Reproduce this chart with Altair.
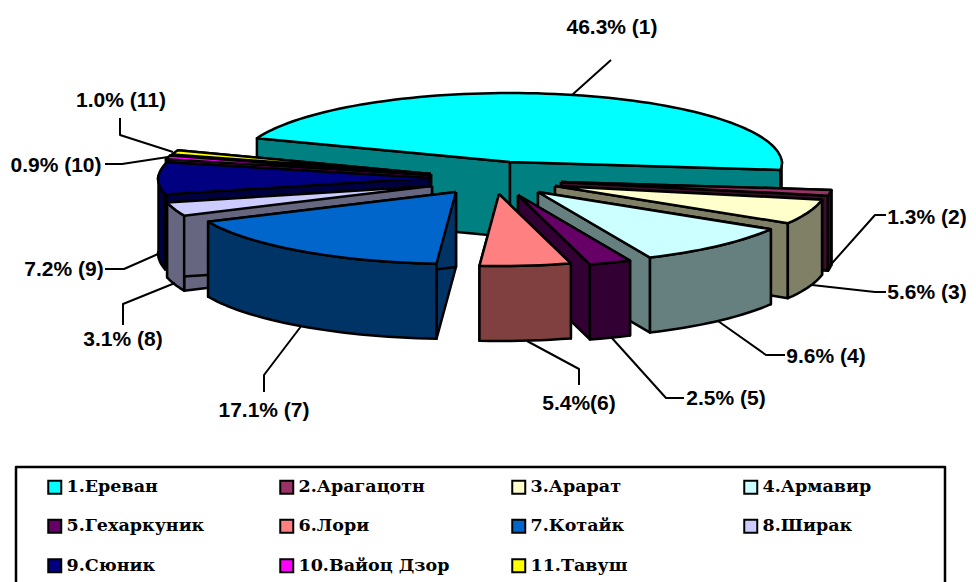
import math
import altair as alt
import pandas as pd

# ---- data ----
names = ["1.Ереван", "2.Арагацотн", "3.Арарат", "4.Армавир", "5.Гехаркуник", "6.Лори",
         "7.Котайк", "8.Ширак", "9.Сюник", "10.Вайоц Дзор", "11.Тавуш"]
shares = [46.3, 1.3, 5.6, 9.6, 2.5, 5.4, 17.1, 3.1, 7.2, 0.9, 1.0]
labels = ["46.3% (1)", "1.3% (2)", "5.6% (3)", "9.6% (4)", "2.5% (5)", "5.4%(6)",
          "17.1% (7)", "3.1% (8)", "7.2% (9)", "0.9% (10)", "1.0% (11)"]
top_colors = ["#00FFFF", "#993366", "#FFFFCC", "#CCFFFF", "#660066", "#FF8080",
              "#0066CC", "#CCCCFF", "#000080", "#FF00FF", "#FFFF00"]
wall_colors = ["#008080", "#3A1028", "#808066", "#668080", "#330033", "#804040",
               "#003366", "#666680", "#000040", "#800080", "#808000"]

# ---- layout of the exploded pie (pixels of the 976x582 page) ----
W, H = 968, 582
A, B, DEPTH = 272, 72, 75
START = 199.6
tips = [(510, 162), (561, 182), (555, 186), (538, 192), (518, 195), (499, 194),
        (456, 192), (432, 186), (430, 178), (429, 175), (431, 174)]
draw_order = [0, 1, 2, 3, 10, 9, 8, 7, 6, 4, 5]
label_xy = [(612, 28), (927, 218), (927, 293), (826, 357), (726, 399), (579, 404),
            (264, 411), (123, 340), (64, 270), (56, 166), (121, 101)]
leaders = [[(572, 95), (611, 60)],
           [(826, 270), (875, 215), (886, 215)],
           [(812, 285), (875, 292), (886, 292)],
           [(718, 321), (766, 355), (785, 355)],
           [(611, 337), (666, 398), (684, 398)],
           [(527, 341), (579, 369), (579, 385)],
           [(302, 325), (264, 375), (264, 392)],
           [(175, 283), (123, 304), (123, 325)],
           [(158, 254), (124, 269), (105, 269)],
           [(168, 157), (122, 164), (105, 164)],
           [(173, 152), (120, 135), (120, 118)]]
box_path = [(16, 582), (16, 467), (945, 467), (945, 582)]

xs = alt.Scale(domain=[8, W], range=[0, W - 8], nice=False, zero=False)
ys = alt.Scale(domain=[8, H], range=[0, H - 8], nice=False, zero=False)


def path_layer(points, fill=None, sw=2.5):
    df = pd.DataFrame({"x": [p[0] for p in points], "y": [p[1] for p in points],
                       "i": range(len(points))})
    kw = dict(stroke="black", strokeWidth=sw, strokeJoin="round", clip=False)
    if fill:
        kw["fill"] = fill
    return alt.Chart(df).mark_line(**kw).encode(
        x=alt.X("x:Q", scale=xs, axis=None),
        y=alt.Y("y:Q", scale=ys, axis=None),
        order=alt.Order("i:Q"),
    )


def ell(c, deg):
    t = math.radians(deg)
    s = math.sin(t)
    back = min(0.0, s)  # the far half of the pie is slightly smaller (perspective)
    return (c[0] + (A + 10 * back) * math.cos(t), c[1] + (B + 3 * back) * s)


def drop(p):
    return (p[0], p[1] + DEPTH)


starts = []
a = START
for s in shares:
    starts.append(a)
    a += s * 3.6

layers = []
for k in draw_order:
    c = tips[k]
    a0 = starts[k]
    a1 = a0 + shares[k] * 3.6
    n = max(3, int((a1 - a0) / 2))
    arc_deg = [a0 + (a1 - a0) * j / n for j in range(n + 1)]
    arc = [ell(c, d) for d in arc_deg]
    for end in (arc[0], arc[-1]):
        wall = [c, end, drop(end), drop(c), c]
        layers.append(path_layer(wall, wall_colors[k]))
    front = [ell(c, d) for d in arc_deg if math.sin(math.radians(d)) > -0.05]
    if len(front) > 1:
        outer = front + [drop(p) for p in reversed(front)] + [front[0]]
        layers.append(path_layer(outer, wall_colors[k]))
    layers.append(path_layer([c] + arc + [c], top_colors[k]))

for pts in leaders:
    layers.append(path_layer(pts, sw=2))
layers.append(path_layer(box_path))

lab = pd.DataFrame({"x": [p[0] for p in label_xy], "y": [p[1] for p in label_xy], "t": labels})
layers.append(alt.Chart(lab).mark_text(font="Liberation Sans", fontWeight="bold", fontSize=21,
                                        color="black", align="center", baseline="middle").encode(
    x=alt.X("x:Q", scale=xs, axis=None), y=alt.Y("y:Q", scale=ys, axis=None), text="t:N"))

leg = pd.DataFrame({"name": names, "x": [20] * 11, "y": [20] * 11})
layers.append(alt.Chart(leg).mark_square(size=0).encode(
    x=alt.X("x:Q", scale=xs, axis=None), y=alt.Y("y:Q", scale=ys, axis=None),
    fill=alt.Fill("name:N", scale=alt.Scale(domain=names, range=top_colors),
                  legend=alt.Legend(orient="none", legendX=38, legendY=470, columns=4, title=None,
                                    direction="horizontal",
                                    symbolType="square", symbolSize=169, symbolStrokeColor="black",
                                    symbolStrokeWidth=2, symbolOpacity=1,
                                    labelFont="DejaVu Serif", labelFontWeight="bold", labelFontSize=17.5,
                                    labelColor="black", labelLimit=220, labelOffset=3,
                                    gridAlign="all", columnPadding=58, rowPadding=17.5)),
))

chart = alt.layer(*layers).properties(
    width=W - 8, height=H - 8, padding=0, autosize=alt.AutoSizeParams(type="none"),
    background="white",
).configure_view(stroke=None)

chart.save("out.html", embed_options={"renderer": "svg", "actions": False})
